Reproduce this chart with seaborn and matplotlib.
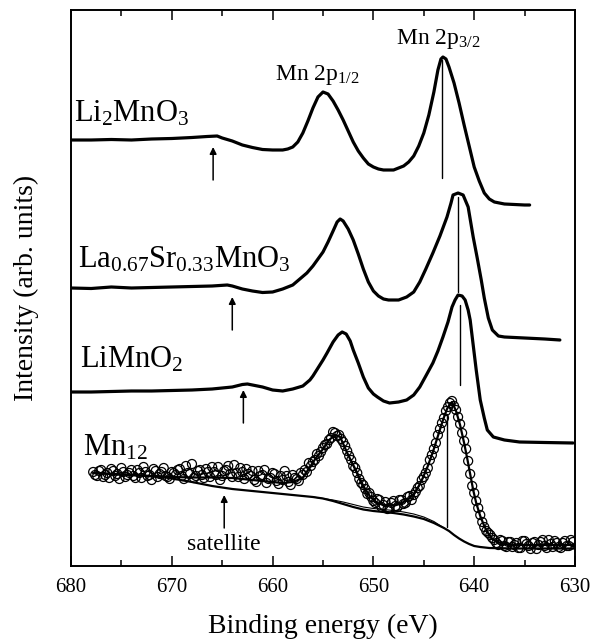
import numpy as np
import pandas as pd
import matplotlib
matplotlib.use("Agg")
import matplotlib.pyplot as plt
from matplotlib.ticker import MultipleLocator
import seaborn as sns

# ---------------- data (binding energy in eV, intensity in arb. units) -------------
li2_E = [680, 678, 676, 674, 672, 670, 668, 666.5, 665.5, 665, 664, 663, 662, 661, 660, 659,
         658.5, 658, 657.5, 657, 656.5, 656, 655.5, 655, 654.5, 654, 653.5, 653, 652.5, 652,
         651.5, 651, 650.5, 650, 649.5, 649, 648, 647.5, 647, 646.5, 646, 645.5, 645, 644.5,
         644, 643.6, 643.3, 643.1, 642.8, 642.5, 642, 641.5, 641, 640.5, 640, 639.5, 639,
         638.5, 638, 637, 636, 635, 634.5]
li2_I = [426, 426, 426.5, 426, 427, 427.5, 428.5, 429.5, 430, 428, 425, 421, 418.5, 416.5, 416, 416,
         417, 419, 424, 433, 445, 458, 469, 474, 472, 465, 456, 446, 435, 424,
         415, 408, 402, 399, 397, 396, 396, 398, 400, 404, 410, 420, 433, 451,
         474, 496, 507, 509, 507, 499, 483, 463, 441, 420, 399, 385, 373,
         367, 364, 362, 361.5, 361, 361]

la_E = [680, 678, 676, 674, 672, 670, 668, 666, 664.5, 664, 663, 662, 661, 660, 659, 658, 657.3,
        656.6, 656, 655.5, 655, 654.5, 654, 653.6, 653.3, 653, 652.5, 652, 651.5, 651, 650.5,
        650, 649.5, 649, 648.5, 647.5, 646.7, 646, 645.4, 644.8, 644.1, 643.4, 642.7, 642.3,
        642.1, 641.6, 641.1, 640.6, 640.1, 639.7, 639.3, 639, 638.6, 638.2, 637.6, 637, 635,
        633, 631.5]
la_I = [278, 277.5, 279, 278, 278.5, 279, 279.5, 280, 281, 280, 277, 275, 273.5, 274, 277, 281, 287,
        293, 300, 307, 314, 324, 335, 344, 347, 345, 337, 326, 312, 297, 284,
        275, 270, 267, 266, 266, 269, 274, 284, 297, 313, 330, 349, 363,
        371, 373, 371, 359, 329, 308, 286, 268, 248, 236, 230, 229, 228,
        227, 226]

limn_E = [680, 678, 676, 674, 672, 670, 668, 666, 664, 663, 662.5, 662, 661, 660, 659, 658, 657,
          656.3, 656, 655.5, 655, 654.6, 654, 653.5, 653.1, 652.7, 652.3, 652, 651.5, 651,
          650.5, 650, 649.6, 649, 648.4, 647.5, 646.7, 646, 645.4, 644.8, 644.1, 643.6, 643.1,
          642.6, 642.2, 641.9, 641.6, 641.2, 640.9, 640.6, 640.4, 640.1, 639.8, 639.4, 639,
          638.7, 638.1, 637, 635.5, 633, 630.2]
limn_I = [174, 174, 174.5, 175, 175, 175.5, 176, 177, 179, 181.5, 182, 181, 179, 176, 175, 177, 180,
          186, 190, 198, 206, 213, 224, 231, 234, 232, 225, 216, 203, 189,
          178, 172, 169, 165, 163, 164, 166, 171, 179, 190, 203, 215, 229,
          244, 259, 266, 271, 270, 266, 256, 246, 221, 196, 166, 148,
          136, 129, 126, 124, 123.5, 123]

# Mn12 measured points (two interleaved scans)
mn12_E = [677.8, 677.4, 677.0, 676.6, 676.2, 675.8, 675.4, 675.0, 674.6, 674.2,
          673.8, 673.4, 673.0, 672.6, 672.2, 671.8, 671.4, 671.0, 670.6, 670.2,
          669.8, 669.4, 669.0, 668.6, 668.2, 667.8, 667.4, 667.0, 666.6, 666.2,
          665.8, 665.4, 665.0, 664.6, 664.2, 663.8, 663.4, 663.0, 662.6, 662.2,
          661.8, 661.4, 661.0, 660.6, 660.2, 659.8, 659.4, 659.0, 658.6, 658.2,
          657.8, 657.4, 657.0, 656.6, 656.2, 655.8, 655.4, 655.0, 654.6, 654.2,
          653.8, 653.4, 653.0, 652.6, 652.2, 651.8, 651.4, 651.0, 650.6, 650.2,
          649.8, 649.4, 649.0, 648.6, 648.2, 647.8, 647.4, 647.0, 646.6, 646.2,
          645.8, 645.4, 645.0, 644.6, 644.2, 643.8, 643.4, 643.0, 642.6, 642.2,
          641.8, 641.4, 641.0, 640.6, 640.2, 639.8, 639.4, 639.0, 638.6, 638.2,
          637.8, 637.4, 637.0, 636.6, 636.2, 635.8, 635.4, 635.0, 634.6, 634.2,
          633.8, 633.4, 633.0, 632.6, 632.2, 631.8, 631.4, 631.0, 630.6, 630.2]
mn12_I = [94, 90, 96, 91, 88, 95, 92, 98, 89, 93,
          90, 96, 88, 94, 91, 97, 89, 94, 90, 87,
          93, 96, 90, 100, 92, 88, 95, 91, 97, 89,
          94, 99, 90, 96, 92, 101, 89, 94, 97, 90,
          86, 95, 91, 83, 88, 92, 82, 86, 90, 81,
          88, 85, 91, 94, 100, 106, 110, 118, 122, 128,
          133, 131, 124, 115, 106, 98, 87, 81, 72, 69,
          63, 66, 61, 57, 63, 60, 66, 62, 69, 66,
          74, 80, 89, 98, 111, 123, 137, 148, 159, 165,
          156, 142, 125, 105, 80, 65, 51, 39, 33, 28,
          23, 26, 20, 24, 19, 23, 18, 25, 20, 23,
          17, 24, 20, 26, 19, 23, 18, 25, 20, 24]
mn12b_E = [677.6, 677.2, 676.8, 676.4, 676.0, 675.6, 675.2, 674.8, 674.4, 674.0,
           673.6, 673.2, 672.8, 672.4, 672.0, 671.6, 671.2, 670.8, 670.4, 670.0,
           669.6, 669.2, 668.8, 668.4, 668.0, 667.6, 667.2, 666.8, 666.4, 666.0,
           665.6, 665.2, 664.8, 664.4, 664.0, 663.6, 663.2, 662.8, 662.4, 662.0,
           661.6, 661.2, 660.8, 660.4, 660.0, 659.6, 659.2, 658.8, 658.4, 658.0,
           657.6, 657.2, 656.8, 656.4, 656.0, 655.6, 655.2, 654.8, 654.4, 654.0,
           653.6, 653.2, 652.8, 652.4, 652.0, 651.6, 651.2, 650.8, 650.4, 650.0,
           649.6, 649.2, 648.8, 648.4, 648.0, 647.6, 647.2, 646.8, 646.4, 646.0,
           645.6, 645.2, 644.8, 644.4, 644.0, 643.6, 643.2, 642.8, 642.4, 642.0,
           641.6, 641.2, 640.8, 640.4, 640.0, 639.6, 639.2, 638.8, 638.4, 638.0,
           637.6, 637.2, 636.8, 636.4, 636.0, 635.6, 635.2, 634.8, 634.4, 634.0,
           633.6, 633.2, 632.8, 632.4, 632.0, 631.6, 631.2, 630.8, 630.4]
mn12b_I = [91, 95, 89, 93, 97, 90, 87, 94, 91, 96,
           88, 93, 99, 90, 86, 95, 92, 98, 89, 94,
           91, 97, 87, 93, 102, 90, 96, 88, 94, 99,
           91, 86, 95, 100, 89, 93, 98, 87, 92, 95,
           84, 90, 96, 87, 93, 85, 90, 95, 84, 91,
           87, 93, 96, 103, 104, 112, 114, 121, 126, 134,
           130, 127, 120, 110, 100, 93, 83, 77, 73, 65,
           67, 59, 64, 58, 65, 59, 66, 63, 70, 71,
           78, 86, 93, 106, 117, 131, 143, 155, 163, 160,
           149, 133, 117, 92, 73, 58, 44, 35, 31, 26,
           21, 25, 19, 24, 21, 18, 25, 22, 17, 24,
           21, 26, 18, 22, 25, 19, 23, 20, 26]

# Mn12 fit envelope
fit_E = [677.8, 676, 674, 672, 670, 668, 666, 664, 662, 660, 659, 658, 657, 656.3, 655.7, 655,
         654.4, 653.8, 653.3, 652.9, 652.6, 652.1, 651.6, 651, 650.3, 649.6, 649, 648.3, 647.7,
         647, 646.4, 646, 645.5, 645.1, 644.6, 644.1, 643.6, 643.1, 642.7, 642.4, 642.2, 641.8,
         641.4, 641, 640.7, 640.4, 640.1, 639.8, 639.4, 639, 638.7, 638.2, 637.7, 637, 636,
         633, 630]
fit_I = [93, 92, 91, 90, 89, 88.5, 88.5, 88, 86, 84, 83, 84, 88, 99, 108, 117,
         126, 131, 129, 120, 113, 103, 93, 80, 69, 63, 61, 60.5, 61,
         64, 68, 72, 80, 88, 100, 114, 130, 146, 157, 162, 164, 155,
         141, 123, 108, 92, 76, 63, 50, 40, 34, 27, 24, 22, 21,
         21, 21]
fit2_E = [652.6, 652.1, 651.6, 651, 650.3, 649.6, 649, 648.3, 647.7, 647, 646.4, 646, 645.5, 645.1]
fit2_I = [113, 102, 91, 77, 65, 58, 55, 54, 55, 58, 63, 70, 79, 88]

# Mn12 Shirley backgrounds
bg_E = [677.8, 674, 671, 670, 668, 666, 664, 662, 660, 658, 656, 655, 654, 653, 652, 651, 650,
        649, 648, 647, 646, 645, 644, 643, 642.5, 642, 641.5, 641, 640.5, 640, 639.4, 638.5,
        636, 630]
bg_I = [93, 91, 89, 87.5, 84, 80, 77, 75, 73, 71, 69, 67.5, 65, 62, 59, 56.5, 55,
        54, 53, 51.5, 49.5, 47, 43, 38, 35, 31, 27.5, 24.5, 22, 20, 19, 18,
        17.5, 17.5]
bg2_E = [656, 655, 654, 653, 652, 651, 650, 649, 648, 647, 646, 645, 644, 643]
bg2_I = [69, 67.5, 66, 64, 61.5, 59, 57.5, 56.5, 55.5, 54, 52, 49, 44.5, 38]

samples = ["Li$_2$MnO$_3$", "La$_{0.67}$Sr$_{0.33}$MnO$_3$", "LiMnO$_2$", "Mn$_{12}$"]
label_E = [679.7, 679.3, 679.1, 678.8]
label_I = [444, 298, 199, 111]

# satellite arrows: energy, tail, head
arrow_E = [665.9, 664.0, 662.9, 664.8]
arrow_tail = [386, 236, 143, 38]
arrow_head = [419, 269, 176, 71]

# Mn 2p3/2 marker lines: energy, bottom, top
vline_E = [643.2, 641.6, 641.4, 642.7]
vline_lo = [388, 274, 181, 39]
vline_hi = [506, 369, 261, 152]

# ---------------- style ----------------
sns.set_theme(style="ticks")
plt.rcParams["font.family"] = ["Liberation Serif", "DejaVu Serif"]
plt.rcParams["mathtext.fontset"] = "custom"
plt.rcParams["mathtext.rm"] = "Liberation Serif"
plt.rcParams["mathtext.default"] = "regular"
plt.rcParams["text.color"] = "black"
plt.rcParams["axes.labelcolor"] = "black"
plt.rcParams["xtick.color"] = "black"

fig = plt.figure(figsize=(5.92, 6.43), dpi=100)
ax = fig.add_axes([71 / 592, 77 / 643, 504 / 592, 556 / 643])

spectra = pd.concat([
    pd.DataFrame({"E": li2_E, "I": li2_I, "s": "li2"}),
    pd.DataFrame({"E": la_E, "I": la_I, "s": "la"}),
    pd.DataFrame({"E": limn_E, "I": limn_I, "s": "limn"}),
], ignore_index=True)
sns.lineplot(data=spectra, x="E", y="I", hue="s", palette=["black"] * 3,
             estimator=None, errorbar=None, linewidth=2.3, legend=False, ax=ax)

pts = pd.DataFrame({"E": mn12_E + mn12b_E, "I": mn12_I + mn12b_I})
sns.scatterplot(data=pts, x="E", y="I", marker="o", s=42, facecolor="none",
                edgecolor="black", linewidth=0.9, ax=ax, zorder=3)
sns.lineplot(x=fit_E, y=fit_I, color="black", linewidth=1.6, estimator=None, ax=ax)
sns.lineplot(x=fit2_E, y=fit2_I, color="black", linewidth=0.8, estimator=None, ax=ax)
sns.lineplot(x=bg_E, y=bg_I, color="black", linewidth=1.6, estimator=None, ax=ax)
sns.lineplot(x=bg2_E, y=bg2_I, color="black", linewidth=0.8, estimator=None, ax=ax)

for e, lo, hi in zip(vline_E, vline_lo, vline_hi):
    ax.plot([e, e], [lo, hi], color="black", linewidth=1.0)

for e, t, h in zip(arrow_E, arrow_tail, arrow_head):
    ax.annotate("", xy=(e, h), xytext=(e, t),
                arrowprops=dict(arrowstyle="-|>", color="black", lw=1.1,
                                mutation_scale=10, shrinkA=0, shrinkB=0))

for name, e, i in zip(samples, label_E, label_I):
    ax.text(e, i, name, fontsize=22, ha="left", va="baseline", color="black")

ax.text(659.8, 486, "Mn 2p$_{1/2}$", fontsize=17, ha="left", va="baseline", color="black")
ax.text(647.8, 522, "Mn 2p$_{3/2}$", fontsize=17, ha="left", va="baseline", color="black")
ax.text(664.8, 16, "satellite", fontsize=17, ha="center", va="baseline", color="black")

ax.set_xlim(680, 630)
ax.set_ylim(0, 556)
ax.xaxis.set_major_locator(MultipleLocator(10))
ax.xaxis.set_minor_locator(MultipleLocator(5))
ax.tick_params(axis="x", which="major", direction="in", top=True, bottom=True,
               length=7.5, width=1.1, labelsize=15, pad=9, colors="black")
ax.tick_params(axis="x", which="minor", direction="in", top=True, bottom=True,
               length=4, width=1.1, colors="black")
ax.tick_params(axis="y", left=False, right=False, labelleft=False)
for sp in ax.spines.values():
    sp.set_visible(True)
    sp.set_linewidth(1.4)
    sp.set_color("black")

ax.set_xlabel("Binding energy (eV)", fontsize=20, labelpad=12, color="black")
ax.set_ylabel("Intensity (arb. units)", fontsize=20, labelpad=23, color="black")

fig.savefig("out.png", dpi=100, facecolor="white")
